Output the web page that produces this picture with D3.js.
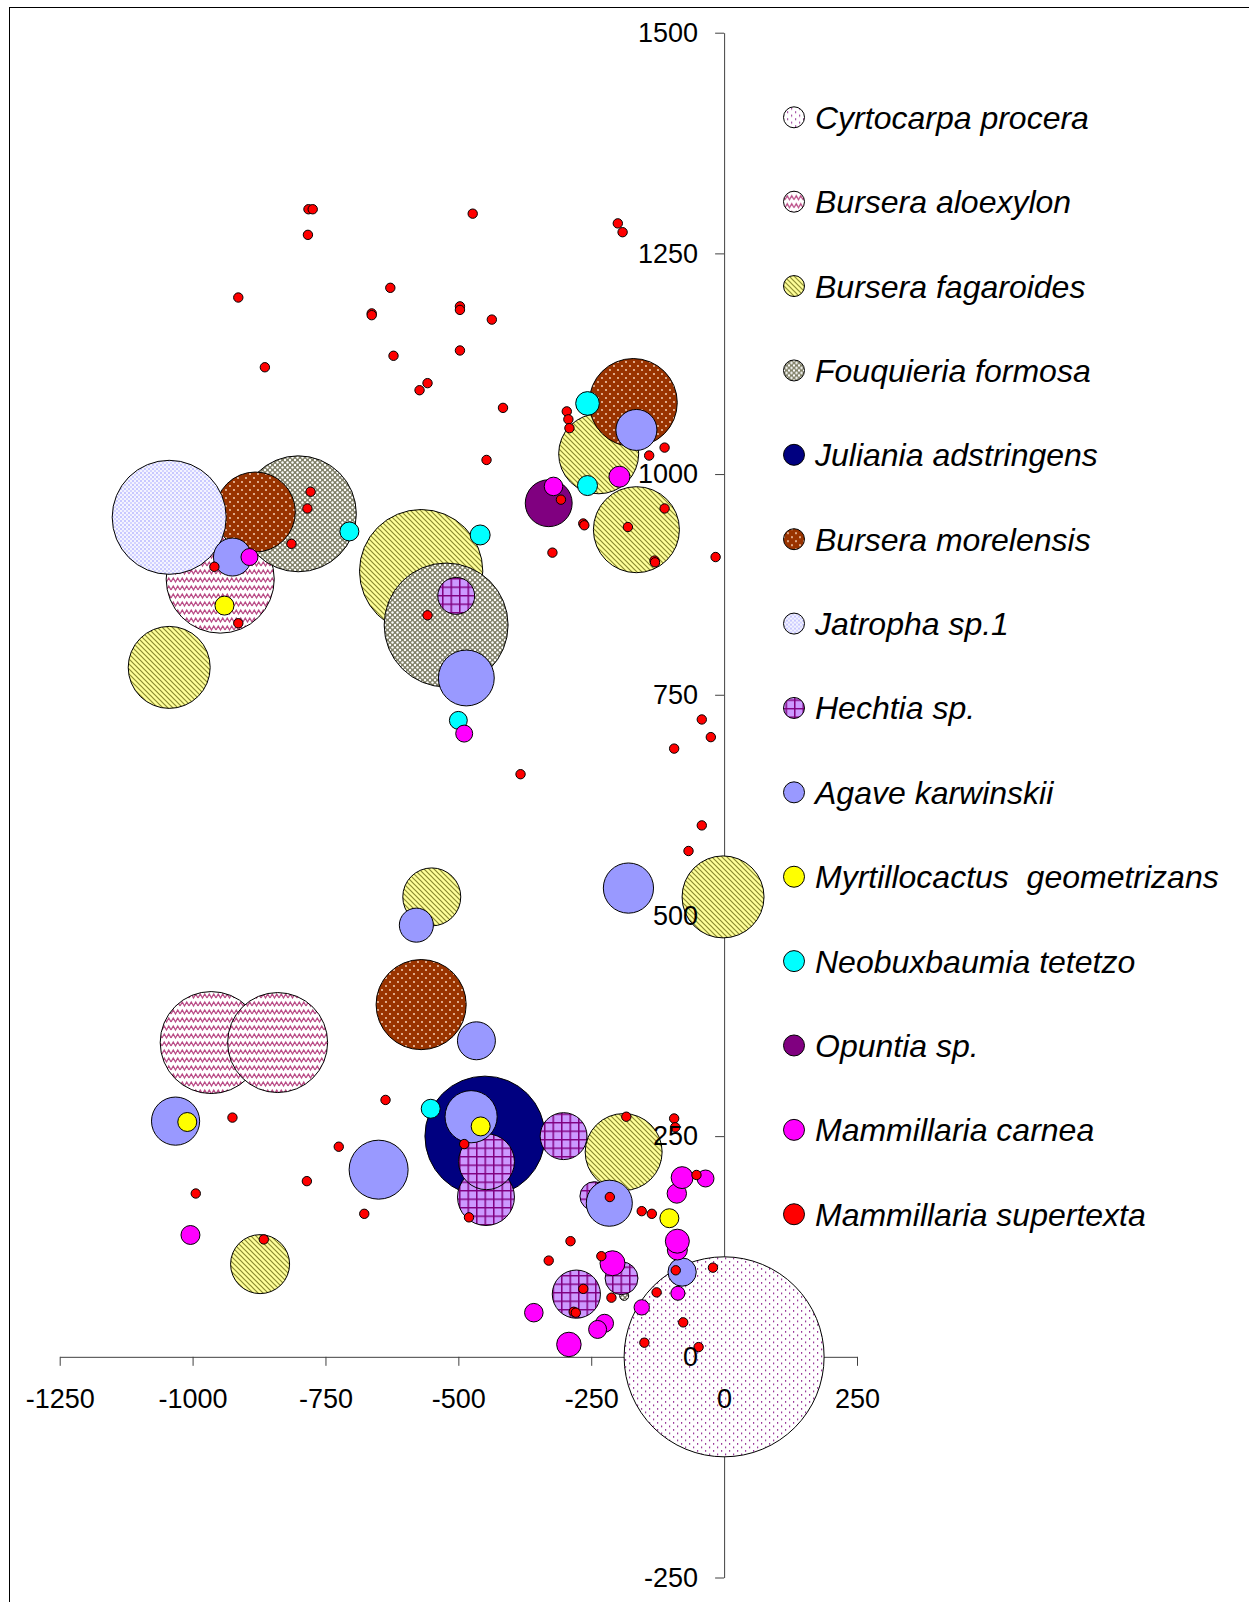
<!DOCTYPE html>
<html>
<head>
<meta charset="utf-8">
<script src="https://cdn.jsdelivr.net/npm/d3@7/dist/d3.min.js"></script>
<style>
  body { margin: 0; background: #fff; }
  text { font-family: "Liberation Sans", Arial, sans-serif; }
</style>
</head>
<body>
<svg id="chart" width="1249" height="1602"></svg>
<script>
// species in legend / drawing order
const species = [
    'Cyrtocarpa procera', 'Bursera aloexylon', 'Bursera fagaroides', 'Fouquieria formosa',
    'Juliania adstringens', 'Bursera morelensis', 'Jatropha sp.1', 'Hechtia sp.',
    'Agave karwinskii', 'Myrtillocactus  geometrizans', 'Neobuxbaumia tetetzo', 'Opuntia sp.',
    'Mammillaria carnea', 'Mammillaria supertexta'
];
const xTicks = [-1250, -1000, -750, -500, -250, 0, 250];
const yTicks = [-250, 0, 250, 500, 750, 1000, 1250, 1500];

// [x, y, bubble size]
const cyrtocarpa = [[0, 0, 100]];
const aloexylon = [[-948, 881, 29.2], [-965, 356, 26], [-840, 356, 25]];
const fagaroides = [[-1044, 781, 16.8], [-570, 890, 38], [-236, 1023, 16], [-165, 937, 18.5],
    [-550, 521, 8.4], [-2, 521, 16.8], [-189, 232, 14.8], [-873, 105, 8.7]];
const fouquieria = [[-801, 955, 33.6], [-523, 829, 38.4], [-188, 69, 0.2]];
const juliania = [[-450, 250, 36]];
const morelensis = [[-882, 957, 16], [-171, 1081, 19.4], [-570, 399, 20.3]];
const jatropha = [[-1044, 951, 32.5]];
const hechtia = [[-504, 862, 3.4], [-302, 250, 5.5], [-448, 181, 8.1], [-447, 221, 7.8],
    [-244, 182, 2.1], [-278, 71, 5.8], [-193, 89, 2.7]];
const agave = [[-925, 906, 3.6], [-485, 769, 7.8], [-165, 1050, 4.2], [-180, 531, 6.3],
    [-579, 489, 2.9], [-466, 358, 3.6], [-1032, 267, 5.8], [-650, 212, 8.7], [-476, 272, 6.8],
    [-216, 174, 5.3], [-79, 96, 2]];
const myrtillocactus = [[-940, 851, 0.9], [-1010, 266, 0.9], [-458, 261, 0.9], [-103, 157, 0.9]];
const neobuxbaumia = [[-257, 1080, 1.4], [-257, 987, 1], [-705, 935, 0.9], [-459, 931, 1],
    [-500, 721, 0.8], [-552, 281, 0.9]];
const opuntia = [[-330, 967, 5.5]];
const carnea = [[-321, 986, 0.86], [-197, 997, 1.1], [-893, 906, 0.72], [-489, 706, 0.72],
    [-1004, 138, 0.9], [-89, 185, 0.94], [-79, 203, 1.2], [-35, 202, 0.72], [-88, 121, 1],
    [-88, 131, 1.44], [-210, 106, 1.56], [-87, 72, 0.49], [-155, 56, 0.59], [-358, 50, 0.86],
    [-225, 38, 0.81], [-238, 31, 0.81], [-292, 14, 1.5]];
const supertexta = [[-782, 1300], [-774, 1300], [-783, 1271], [-473, 1295], [-200, 1284],
    [-191, 1274], [-914, 1200], [-628, 1211], [-663, 1182], [-663, 1180], [-497, 1190],
    [-497, 1186], [-437, 1175], [-864, 1121], [-622, 1134], [-497, 1140], [-573, 1095],
    [-558, 1103], [-416, 1075], [-296, 1071], [-293, 1062], [-291, 1052], [-447, 1016],
    [-141, 1021], [-112, 1030], [-307, 971], [-265, 944], [-263, 942], [-323, 911],
    [-181, 940], [-112, 961], [-131, 902], [-130, 900], [-16, 906], [-778, 980], [-784, 961],
    [-814, 921], [-959, 895], [-914, 831], [-558, 840], [-94, 689], [-42, 722], [-25, 702],
    [-42, 602], [-67, 573], [-383, 660], [-637, 291], [-925, 271], [-725, 238], [-785, 199],
    [-994, 185], [-677, 162], [-866, 133], [-489, 241], [-480, 158], [-184, 272], [-215, 181],
    [-52, 206], [-155, 165], [-136, 162], [-289, 131], [-330, 109], [-231, 114], [-265, 77],
    [-212, 67], [-283, 51], [-279, 50], [-91, 98], [-21, 101], [-127, 73], [-77, 39],
    [-150, 16], [-48, 11], [-94, 270], [-92, 260]].map(d => [d[0], d[1], 0.22]);

const seriesData = [cyrtocarpa, aloexylon, fagaroides, fouquieria, juliania, morelensis, jatropha,
    hechtia, agave, myrtillocactus, neobuxbaumia, opuntia, carnea, supertexta];
const fills = ['url(#p-cyr)', 'url(#p-alo)', 'url(#p-fag)', 'url(#p-fou)', '#000080', 'url(#p-mor)',
    'url(#p-jat)', 'url(#p-hec)', '#9999ff', '#ffff00', '#00ffff', '#800080', '#ff00ff', '#ff0000'];

const svg = d3.select('#chart');
const defs = svg.append('defs');

function pattern(id, w, h, bg) {
    const p = defs.append('pattern').attr('id', id)
        .attr('patternUnits', 'userSpaceOnUse').attr('width', w).attr('height', h);
    p.append('rect').attr('width', w).attr('height', h).attr('fill', bg);
    return p;
}
let p = pattern('p-cyr', 8, 7, '#fff');
p.append('rect').attr('x', 1).attr('y', 1).attr('width', 1.2).attr('height', 1.8).attr('fill', '#9a3a9a');
p.append('rect').attr('x', 5).attr('y', 4.5).attr('width', 1.2).attr('height', 1.8).attr('fill', '#9a3a9a');

p = pattern('p-alo', 9, 8, '#fff');
p.append('path').attr('d', 'M0,6 L2.25,2 L4.5,6 L6.75,2 L9,6').attr('fill', 'none')
    .attr('stroke', '#b94a85').attr('stroke-width', 1.3);

p = pattern('p-fag', 5, 5, '#ffff99');
p.append('path').attr('d', 'M-1,-1 L6,6 M-1,4 L1,6 M4,-1 L6,1').attr('stroke', '#8a8a30').attr('stroke-width', 1.2);

p = pattern('p-fou', 5, 5, '#7f7f66');
[[0, 0], [5, 0], [0, 5], [5, 5], [2.5, 2.5]].forEach(function(c) {
    p.append('circle').attr('cx', c[0]).attr('cy', c[1]).attr('r', 1.2).attr('fill', '#fff');
});

p = pattern('p-mor', 8, 8, '#993300');
p.append('circle').attr('cx', 2).attr('cy', 2).attr('r', 0.9).attr('fill', '#ffe0c8');
p.append('circle').attr('cx', 6).attr('cy', 6).attr('r', 0.9).attr('fill', '#ffe0c8');

p = pattern('p-jat', 4, 4, '#f4f4ff');
p.append('rect').attr('x', 0).attr('y', 0).attr('width', 2).attr('height', 2).attr('fill', '#c8c8ff');
p.append('rect').attr('x', 2).attr('y', 2).attr('width', 2).attr('height', 2).attr('fill', '#d4d4ff');

p = pattern('p-hec', 8.5, 8.5, '#cc99ff');
p.append('path').attr('d', 'M0.7,0 V8.5 M0,0.7 H8.5').attr('stroke', '#800080').attr('stroke-width', 1.6);

// frame
svg.append('rect').attr('x', 9.5).attr('y', 7.5).attr('width', 1400).attr('height', 1800)
    .attr('fill', 'none').attr('stroke', '#000').attr('stroke-width', 1);

const x = d3.scaleLinear().domain([-1250, 250]).range([59.7, 857]);
const y = d3.scaleLinear().domain([-250, 1500]).range([1577.5, 32.7]);
const r = d3.scaleSqrt().domain([0, 100]).range([0, 100]);

const fmt = d => String(d);
const xAxis = d3.axisBottom(x).tickValues(xTicks).tickSize(9).tickSizeOuter(0).tickFormat(fmt).tickPadding(23);
const yAxis = d3.axisLeft(y).tickValues(yTicks).tickSize(9).tickSizeOuter(0).tickFormat(fmt).tickPadding(17);

// axis lines sit under the bubbles
const axisLines = svg.append('g');
axisLines.append('g').attr('transform', 'translate(0,' + y(0) + ')').call(xAxis)
    .call(g => g.selectAll('text').remove());
axisLines.append('g').attr('transform', 'translate(' + x(0) + ',0)').call(yAxis)
    .call(g => g.selectAll('text').remove());
axisLines.selectAll('path, line').attr('stroke', '#404040');

const bubbles = svg.append('g');
seriesData.forEach(function(data, i) {
    bubbles.append('g').selectAll('circle')
        .data(data)
        .join('circle')
        .attr('cx', d => x(d[0]))
        .attr('cy', d => y(d[1]))
        .attr('r', d => r(d[2]))
        .attr('fill', fills[i])
        .attr('stroke', '#000')
        .attr('stroke-width', 1);
});

// tick labels on top
const axisText = svg.append('g');
axisText.append('g').attr('transform', 'translate(0,' + y(0) + ')').call(xAxis);
axisText.append('g').attr('transform', 'translate(' + x(0) + ',0)').call(yAxis);
axisText.selectAll('path, line').remove();
axisText.selectAll('g').attr('font-family', null).attr('font-size', null);
axisText.selectAll('text').attr('fill', '#000').style('font-size', '27px');

// legend
const legend = svg.append('g');
const row = legend.selectAll('g')
    .data(species)
    .join('g')
    .attr('transform', (d, i) => 'translate(794,' + (117.3 + i * 84.38) + ')');
row.append('circle')
    .attr('r', 10.5)
    .attr('fill', (d, i) => fills[i])
    .attr('stroke', '#000');
row.append('text')
    .attr('x', 21)
    .attr('y', 11.5)
    .style('font-size', '32px')
    .style('font-style', 'italic')
    .style('white-space', 'pre')
    .text(d => d);
</script>
</body>
</html>
